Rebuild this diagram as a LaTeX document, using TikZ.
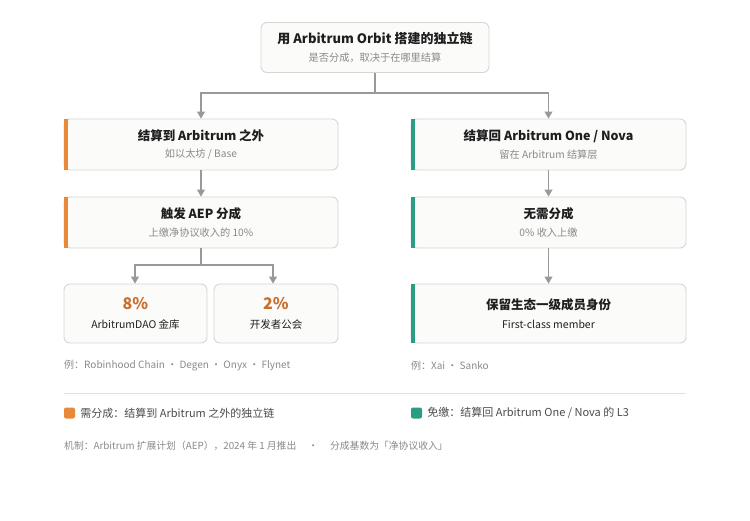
\documentclass[tikz,border=0pt]{standalone}
\usepackage{fontspec}
\setmainfont{Noto Sans CJK SC}
\usetikzlibrary{arrows.meta,positioning}
\definecolor{aeporange}{HTML}{E8893A}
\definecolor{aepgreen}{HTML}{2A9D82}
\definecolor{pctorange}{HTML}{C86F2C}
\definecolor{boxline}{HTML}{D6D6D4}
\definecolor{boxfill}{HTML}{FBFBFA}
\definecolor{subgray}{HTML}{8A8A8A}
\definecolor{linkgray}{HTML}{999999}
\definecolor{textdark}{HTML}{1E1E1E}
\tikzset{
  card/.style={draw=boxline,fill=boxfill,line width=0.9pt,rounded corners=6pt,
    align=center,inner sep=0pt,text=textdark},
  wide/.style={card,minimum width=274pt,minimum height=51pt},
  link/.style={draw=linkgray,line width=1.1pt},
  linkarrow/.style={link,-{Triangle[width=8pt,length=7pt]}},
  note/.style={anchor=west,inner sep=0pt,text=subgray,font=\fontsize{10}{12}\selectfont},
}
\newcommand{\sub}[1]{\\[5.5pt]{\fontsize{10.2}{12}\selectfont\color{subgray}#1}}
\newcommand{\lowline}[1]{\\[7pt]{\fontsize{10.5}{12}\selectfont#1}}
\begin{document}
\begin{tikzpicture}[x=1pt,y=-1pt]
\useasboundingbox[fill=white] (0,0) rectangle (750,521);
% top
\node[card,minimum width=228pt,minimum height=50pt] (orbit) at (375,47.5)
  {{\fontsize{13}{15}\selectfont\bfseries 用 Arbitrum Orbit 搭建的独立链}\sub{是否分成，取决于在哪里结算}};
% left branch
\node[wide] (outside) at (201,144.5) {{\bfseries\fontsize{12.5}{15}\selectfont 结算到 Arbitrum 之外}\sub{如以太坊 / Base}};
\node[wide] (trigger) at (201,222.5) {{\bfseries\fontsize{12.5}{15}\selectfont 触发 AEP 分成}\sub{上缴净协议收入的 10\%}};
\node[card,minimum width=143pt,minimum height=59pt] (dao) at (135.5,313.5)
  {{\fontsize{16}{18}\selectfont\bfseries\color{pctorange}8\%}\lowline{ArbitrumDAO 金库}};
\node[card,minimum width=124pt,minimum height=59pt] (guild) at (276,313.5)
  {{\fontsize{16}{18}\selectfont\bfseries\color{pctorange}2\%}\lowline{开发者公会}};
% right branch
\node[wide,minimum width=275pt] (onenova) at (548.5,144.5) {{\bfseries\fontsize{12.5}{15}\selectfont 结算回 Arbitrum One / Nova}\sub{留在 Arbitrum 结算层}};
\node[wide,minimum width=275pt] (nofee) at (548.5,222.5) {{\bfseries\fontsize{12.5}{15}\selectfont 无需分成}\sub{0\% 收入上缴}};
\node[wide,minimum width=275pt,minimum height=59pt] (member) at (548.5,313.5) {{\bfseries\fontsize{12.5}{15}\selectfont 保留生态一级成员身份}\lowline{First-class member}};
% side bars
\foreach \b/\c in {outside/aeporange,trigger/aeporange,onenova/aepgreen,nofee/aepgreen,member/aepgreen}
  \fill[\c] (\b.north west) rectangle ([xshift=4pt]\b.south west);
% connectors
\coordinate (split) at (375,93);
\coordinate (fork) at (201,265);
\draw[link] (orbit.south) -- (split);
\draw[linkarrow] (split) -| (outside.north);
\draw[linkarrow] (split) -| (onenova.north);
\draw[linkarrow] (outside.south) -- (trigger.north);
\draw[link] (trigger.south) -- (fork);
\draw[linkarrow] (fork) -| ([xshift=-0.5pt]dao.north);
\draw[linkarrow] (fork) -| ([xshift=-3pt]guild.north);
\draw[linkarrow] (onenova.south) -- (nofee.north);
\draw[linkarrow] (nofee.south) -- (member.north);
% examples
\node[note] (exleft) at (64,366) {例：Robinhood Chain · Degen · Onyx · Flynet};
\node[note] (exright) at (411,366) {例：Xai · Sanko};
\draw[boxline!70,line width=0.8pt] (64,393) -- (686,393);
% legend
\node[fill=aeporange,rounded corners=2pt,minimum size=11pt,inner sep=0pt] (keyfee) at (69.5,413) {};
\node[note,text=textdark!80,font=\fontsize{11}{13}\selectfont,right=5pt of keyfee] (keyfeetext) {需分成：结算到 Arbitrum 之外的独立链};
\node[fill=aepgreen,rounded corners=2pt,minimum size=11pt,inner sep=0pt] (keyfree) at (416.5,413) {};
\node[note,text=textdark!80,font=\fontsize{11}{13}\selectfont,right=5pt of keyfree] (keyfreetext) {免缴：结算回 Arbitrum One / Nova 的 L3};
\node[note,font=\fontsize{9.8}{11}\selectfont] (footer) at (64,446)
  {机制：Arbitrum 扩展计划（AEP），2024 年 1 月推出\hspace{12pt}·\hspace{12pt}分成基数为「净协议收入」};
\end{tikzpicture}
\end{document}
